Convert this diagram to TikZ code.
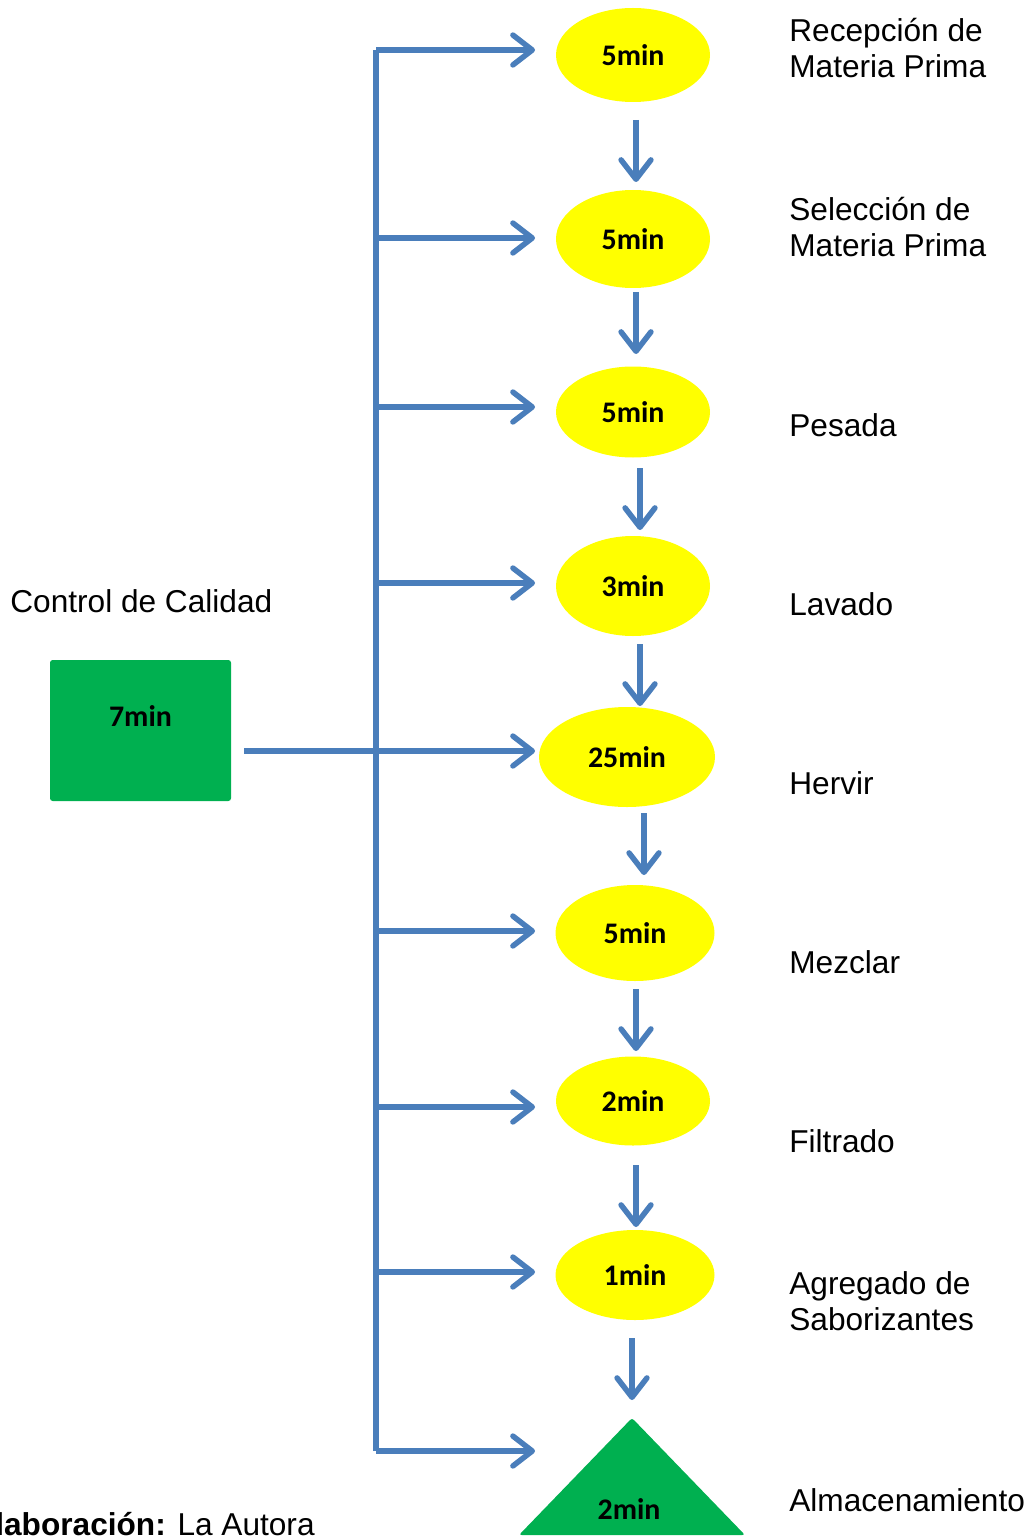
\documentclass[tikz,border=0pt]{standalone}
\usepackage{fontspec}
\setmainfont{Liberation Sans}
\newfontfamily\calib{Carlito}
\usetikzlibrary{shapes.geometric,arrows.meta,calc}
\definecolor{flowblue}{HTML}{4A7EBB}
\definecolor{opyellow}{HTML}{FFFF00}
\definecolor{opgreen}{HTML}{00B050}
\begin{document}
\begin{tikzpicture}[x=0.02cm,y=-0.02cm,
  conn/.style={draw=flowblue,line width=0.11cm},
  arr/.style={conn,-{Straight Barb[length=11pt,width=17pt,line cap=round,line join=round]}},
  op/.style={ellipse,fill=opyellow,inner sep=0pt,font=\calib\fontsize{17}{18}\selectfont\bfseries},
  lbl/.style={anchor=west,inner sep=0pt,align=left,font=\fontsize{18}{20.5}\selectfont}]
\useasboundingbox (0,0) rectangle (1033,1537);

% operations
\node[op,minimum width=154*0.02cm,minimum height=94*0.02cm]  (e1) at (633,55)   {5min};
\node[op,minimum width=154*0.02cm,minimum height=98*0.02cm]  (e2) at (633,239)  {5min};
\node[op,minimum width=154*0.02cm,minimum height=91*0.02cm]  (e3) at (633,412)  {5min};
\node[op,minimum width=154*0.02cm,minimum height=100*0.02cm] (e4) at (633,586)  {3min};
\node[op,minimum width=176*0.02cm,minimum height=100*0.02cm] (e5) at (627,757)  {25min};
\node[op,minimum width=159*0.02cm,minimum height=96*0.02cm]  (e6) at (635,933)  {5min};
\node[op,minimum width=154*0.02cm,minimum height=89*0.02cm]  (e7) at (633,1101) {2min};
\node[op,minimum width=159*0.02cm,minimum height=90*0.02cm]  (e8) at (635,1275) {1min};

% storage
\fill[opgreen,rounded corners=1.5pt] (519,1535) -- (632,1418) -- (745,1535) -- cycle;
\coordinate (tri) at (632,1418);
\node[font=\calib\fontsize{17}{18}\selectfont\bfseries,inner sep=0pt] (t2) at (629,1509) {2min};

% inspection
\node[fill=opgreen,rounded corners=1.5pt,inner sep=0pt,
      minimum width=181*0.02cm,minimum height=141*0.02cm,
      label={[font=\calib\fontsize{17}{18}\selectfont\bfseries,yshift=0.28cm]center:7min}] (q) at (140.5,730.5) {};

% main sequence
\coordinate (v1a) at (636,120);  \coordinate (v1b) at (636,182);
\coordinate (v2a) at (636,292);  \coordinate (v2b) at (636,354);
\coordinate (v3a) at (640,468);  \coordinate (v3b) at (640,530);
\coordinate (v4a) at (640,644);  \coordinate (v4b) at (640,706);
\coordinate (v5a) at (644,813);  \coordinate (v5b) at (644,875);
\coordinate (v6a) at (636,989);  \coordinate (v6b) at (636,1051);
\coordinate (v7a) at (636,1165); \coordinate (v7b) at (636,1227);
\coordinate (v8a) at (632,1338); \coordinate (v8b) at (632,1400);
\foreach \i in {1,...,8} \draw[arr] (v\i a) -- (v\i b);

% inspection bus
\coordinate (bt) at (376,50);
\coordinate (bb) at (376,1451);
\coordinate (qo) at (244,751);
\draw[conn] (bb) -- (bt);
\foreach \y [count=\k] in {50,238,407,583,751,931,1107,1272,1451}
  \draw[arr] (376,\y) coordinate (h\k) -- (535,\y) coordinate (g\k);
\draw[conn] (qo) -- (h5);

% step names
\node[lbl] (l1) at (789,48)   {Recepción de\\Materia Prima};
\node[lbl] (l2) at (789,227)  {Selección de\\Materia Prima};
\node[lbl] (l3) at (789,425)  {Pesada};
\node[lbl] (l4) at (789,604)  {Lavado};
\node[lbl] (l5) at (789,783)  {Hervir};
\node[lbl] (l6) at (789,962)  {Mezclar};
\node[lbl] (l7) at (789,1141) {Filtrado};
\node[lbl] (l8) at (789,1301) {Agregado de\\Saborizantes};
\node[lbl] (l9) at (789,1500) {Almacenamiento};
\node[lbl] (lq) at (10,601)   {Control de Calidad};
\node[lbl,anchor=east] (src) at (315,1524) {\textbf{Elaboración:} La Autora};
\end{tikzpicture}
\end{document}
